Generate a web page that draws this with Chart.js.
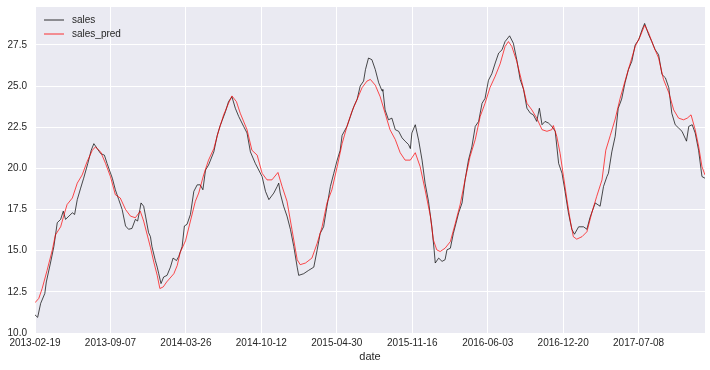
<!DOCTYPE html>
<html>
<head>
<meta charset="utf-8">
<script src="https://cdn.jsdelivr.net/npm/chart.js@4/dist/chart.umd.min.js"></script>
<style>
  body { margin: 0; background: #fff; }
  canvas { display: block; }
</style>
</head>
<body>
<canvas id="chart" width="710" height="370"></canvas>
<script>
// day offsets are counted from this first date of the index
var START_DATE = Date.UTC(2013, 1, 19);
var LAST_DAY = 1776;

// sales (black)
var salesDay = [0, 7, 15, 26, 30, 41, 50, 59, 68, 75, 81, 90, 99, 105, 112, 121, 129, 140, 149, 156,
  165, 174, 184, 191, 205, 213, 222, 231, 240, 248, 257, 266, 272, 278, 281, 288, 293, 301, 306, 310,
  319, 324, 328, 334, 341, 350, 359, 366, 375, 381, 390, 396, 403, 412, 421, 430, 438, 445, 452, 460,
  474, 483, 491, 496, 505, 513, 522, 531, 540, 553, 562, 571, 584, 593, 602, 611, 620, 633, 642, 646,
  650, 659, 668, 677, 686, 695, 699, 712, 725, 739, 748, 756, 765, 774, 783, 792, 801, 809, 814, 827,
  836, 845, 854, 862, 871, 876, 884, 893, 902, 911, 920, 922, 928, 937, 946, 955, 964, 973, 981, 990,
  995, 999, 1008, 1017, 1026, 1034, 1043, 1052, 1058, 1061, 1070, 1079, 1087, 1092, 1101, 1109, 1123, 1132, 1140, 1149,
  1158, 1167, 1176, 1185, 1193, 1202, 1211, 1220, 1229, 1238, 1246, 1258, 1268, 1277, 1286, 1295, 1304, 1313, 1321, 1330,
  1337, 1344, 1352, 1361, 1370, 1379, 1388, 1397, 1405, 1414, 1423, 1430, 1441, 1454, 1463, 1471, 1485, 1498, 1507, 1516,
  1520, 1529, 1538, 1546, 1555, 1564, 1573, 1582, 1591, 1600, 1609, 1616, 1627, 1635, 1644, 1653, 1662, 1671, 1680, 1688,
  1697, 1706, 1715, 1727, 1733, 1742, 1750, 1759, 1768, 1776];
var sales = [11.1, 10.95, 11.8, 12.4, 13.1, 14.25, 15.25, 16.7, 16.9, 17.4, 16.9, 17.1, 17.3, 17.2, 18.1, 18.8, 19.4, 20.3, 21.1, 21.5,
  21.2, 20.9, 20.8, 20.3, 19.4, 18.7, 18.1, 17.5, 16.5, 16.3, 16.35, 16.9, 16.8, 17.5, 17.9, 17.7, 17.1, 16.1, 15.85, 15.25,
  14.4, 14.0, 13.6, 13.0, 13.4, 13.5, 14.0, 14.55, 14.4, 14.65, 15.25, 16.5, 16.6, 17.2, 18.6, 19.0, 19.0, 18.7, 19.9, 20.2,
  21.0, 22.0, 22.6, 22.9, 23.45, 24.05, 24.35, 23.65, 23.15, 22.55, 22.15, 21.0, 20.3, 19.9, 19.5, 18.6, 18.1, 18.5, 18.9, 19.1,
  18.5, 17.7, 17.1, 16.3, 15.25, 14.0, 13.5, 13.6, 13.8, 14.0, 15.05, 16.05, 16.45, 17.7, 18.9, 19.7, 20.5, 21.1, 22.0, 22.55,
  23.15, 23.75, 24.2, 25.0, 25.3, 26.0, 26.7, 26.6, 26.0, 25.2, 24.7, 24.8, 23.55, 22.95, 23.05, 22.35, 22.25, 21.85, 21.65, 21.45,
  21.2, 22.15, 22.65, 21.7, 20.5, 19.1, 18.0, 16.45, 15.05, 14.25, 14.55, 14.35, 14.45, 15.05, 15.15, 16.05, 17.3, 17.9, 19.3, 20.5,
  21.3, 22.55, 22.85, 23.95, 24.25, 25.35, 25.75, 26.4, 27.0, 27.2, 27.7, 28.05, 27.6, 26.6, 25.4, 24.8, 23.65, 23.35, 23.25, 22.85,
  23.65, 22.65, 22.85, 22.75, 22.55, 22.25, 20.3, 19.7, 18.6, 17.3, 16.3, 16.0, 16.45, 16.45, 16.3, 17.0, 17.9, 17.7, 18.9, 19.5,
  19.7, 21.0, 21.95, 23.65, 24.2, 25.2, 26.0, 26.5, 27.5, 27.8, 28.4, 28.8, 28.1, 27.7, 27.2, 26.9, 25.7, 25.5, 24.9, 23.35,
  22.65, 22.45, 22.25, 21.65, 22.55, 22.65, 22.15, 21.1, 19.5, 19.4];

// sales_pred (red)
var predDay = [0, 10, 19, 32, 46, 54, 68, 76, 85, 99, 112, 125, 138, 152, 160, 174, 187, 200, 213, 226,
  240, 253, 266, 279, 288, 301, 306, 315, 324, 331, 340, 349, 368, 377, 385, 399, 412, 425, 434, 447,
  460, 474, 487, 500, 513, 522, 534, 544, 562, 575, 589, 602, 615, 628, 644, 655, 668, 681, 695, 703,
  717, 734, 748, 761, 774, 787, 801, 814, 827, 840, 854, 867, 880, 889, 902, 915, 928, 941, 955, 968,
  981, 995, 1008, 1021, 1034, 1048, 1056, 1065, 1074, 1087, 1101, 1114, 1127, 1140, 1153, 1167, 1180, 1193, 1206, 1220,
  1233, 1246, 1255, 1264, 1277, 1291, 1304, 1317, 1330, 1344, 1357, 1370, 1374, 1383, 1392, 1401, 1410, 1419, 1427, 1436,
  1450, 1463, 1476, 1489, 1503, 1513, 1525, 1538, 1551, 1564, 1578, 1591, 1604, 1616, 1627, 1640, 1653, 1666, 1680, 1693,
  1706, 1719, 1729, 1739, 1750, 1759, 1768, 1776];
var salesPred = [11.84, 12.1, 12.7, 13.8, 15.05, 15.95, 16.45, 17.1, 17.8, 18.2, 19.1, 19.6, 20.4, 21.1, 21.3, 21.0, 20.3, 19.5, 18.4, 18.2,
  17.5, 17.1, 17.0, 17.4, 16.8, 15.65, 15.2, 14.3, 13.5, 12.7, 12.8, 13.1, 13.6, 14.1, 14.9, 15.6, 16.8, 18.0, 18.5, 19.6,
  20.5, 21.2, 22.3, 23.25, 23.95, 24.4, 24.05, 23.35, 22.35, 21.1, 20.8, 19.7, 19.3, 19.3, 19.75, 18.9, 18.0, 16.3, 14.45, 14.15,
  14.25, 14.55, 15.45, 16.45, 17.9, 18.7, 20.1, 21.5, 22.55, 23.45, 24.2, 24.9, 25.3, 25.4, 25.05, 24.35, 23.35, 22.35, 21.75, 20.95,
  20.5, 20.5, 20.95, 20.1, 18.7, 17.1, 15.65, 15.05, 14.95, 15.15, 15.55, 16.65, 17.8, 19.3, 20.7, 21.75, 23.15, 23.95, 24.9, 25.6,
  26.35, 27.4, 27.7, 27.4, 26.5, 25.2, 23.95, 23.55, 23.05, 22.35, 22.25, 22.35, 22.6, 21.95, 20.9, 19.5, 18.1, 16.8, 15.85, 15.7,
  15.85, 16.15, 17.3, 18.3, 19.3, 21.1, 22.0, 23.0, 24.25, 25.3, 26.4, 27.4, 28.0, 28.7, 28.2, 27.4, 26.7, 25.4, 24.6, 23.55,
  23.05, 22.95, 23.05, 23.25, 22.35, 21.35, 20.1, 19.6];

// tick positions: x every 200 days from the first date, y every 2.5
var xTicks = [0, 200, 400, 600, 800, 1000, 1200, 1400, 1600];
var yTicks = [10, 12.5, 15, 17.5, 20, 22.5, 25, 27.5];

function toPoints(days, vals) {
  var pts = [];
  for (var i = 0; i < days.length; i++) pts.push({x: days[i], y: vals[i]});
  return pts;
}

function dayLabel(d) {
  return new Date(START_DATE + d * 86400000).toISOString().slice(0, 10);
}

var textColor = "#262626";
var fontFamily = "'Liberation Sans', Arial, sans-serif";

// grey plot background like seaborn darkgrid
var plotBg = {
  id: "plotBg",
  beforeDraw: function(chart) {
    var a = chart.chartArea, ctx = chart.ctx;
    ctx.save();
    ctx.fillStyle = "#EAEAF2";
    ctx.fillRect(a.left, a.top, a.right - a.left, a.bottom - a.top);
    ctx.restore();
  }
};

// small frameless legend in the upper left corner
var cornerLegend = {
  id: "cornerLegend",
  afterDraw: function(chart) {
    var ctx = chart.ctx, a = chart.chartArea;
    var items = chart.data.datasets;
    ctx.save();
    ctx.font = "10px " + fontFamily;
    ctx.textBaseline = "middle";
    for (var i = 0; i < items.length; i++) {
      var y = a.top + 13 + i * 14;
      ctx.strokeStyle = items[i].borderColor;
      ctx.lineWidth = 0.8;
      ctx.beginPath();
      ctx.moveTo(a.left + 9, y);
      ctx.lineTo(a.left + 29, y);
      ctx.stroke();
      ctx.fillStyle = textColor;
      ctx.fillText(items[i].label, a.left + 37, y + 0.5);
    }
    ctx.restore();
  }
};

new Chart(document.getElementById("chart"), {
  type: "line",
  data: {
    datasets: [
      {
        label: "sales",
        data: toPoints(salesDay, sales),
        borderColor: "#000000",
        borderWidth: 0.7,
        pointRadius: 0,
        order: 2
      },
      {
        label: "sales_pred",
        data: toPoints(predDay, salesPred),
        borderColor: "#ff0000",
        borderWidth: 0.7,
        pointRadius: 0,
        order: 1
      }
    ]
  },
  options: {
    responsive: false,
    animation: false,
    devicePixelRatio: 1,
    layout: { padding: { top: 7, right: 5, left: 0, bottom: 0 } },
    plugins: { legend: { display: false }, tooltip: { enabled: false } },
    scales: {
      x: {
        type: "linear",
        min: 0,
        max: LAST_DAY,
        border: { display: false },
        grid: { color: "#ffffff", lineWidth: 1, drawTicks: false },
        afterBuildTicks: function(s) {
          s.ticks = xTicks.map(function(v) { return {value: v}; });
        },
        ticks: {
          autoSkip: false,
          maxRotation: 0,
          padding: 4,
          color: textColor,
          font: { family: fontFamily, size: 10 },
          callback: function(v) { return dayLabel(v); }
        },
        title: {
          display: true,
          text: "date",
          color: textColor,
          font: { family: fontFamily, size: 11 },
          padding: { top: 0, bottom: 6 }
        },
        afterFit: function(s) {
          s.height = 37;
          s.paddingLeft = 0;
          s.paddingRight = 0;
        }
      },
      y: {
        type: "linear",
        min: 10,
        max: 29.8,
        border: { display: false },
        grid: { color: "#ffffff", lineWidth: 1, drawTicks: false },
        afterBuildTicks: function(s) {
          s.ticks = yTicks.map(function(v) { return {value: v}; });
        },
        ticks: {
          padding: 8,
          color: textColor,
          font: { family: fontFamily, size: 10 },
          callback: function(v) { return v.toFixed(1); }
        },
        afterFit: function(s) {
          s.width = 35;
          s.paddingTop = 0;
          s.paddingBottom = 0;
        }
      }
    }
  },
  plugins: [plotBg, cornerLegend]
});
</script>
</body>
</html>
